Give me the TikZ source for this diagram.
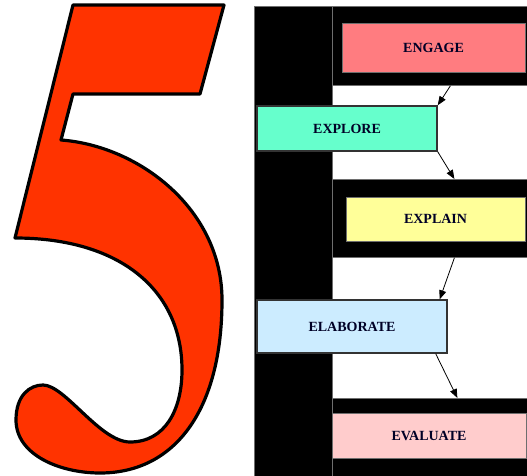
\documentclass[tikz,border=0pt]{standalone}
\usepackage{fontspec}
\setmainfont{Liberation Serif}
\usetikzlibrary{arrows.meta}
\definecolor{fiveRed}{RGB}{255,51,0}
\definecolor{engageC}{RGB}{255,124,128}
\definecolor{exploreC}{RGB}{102,255,204}
\definecolor{explainC}{RGB}{255,255,153}
\definecolor{elaborateC}{RGB}{204,236,255}
\definecolor{evaluateC}{RGB}{255,204,204}
\definecolor{edgeGray}{RGB}{110,110,110}
\tikzset{
  blk/.style={fill=black, draw=edgeGray, line width=0.8pt},
  stage/.style={font=\fontsize{14}{16}\selectfont\bfseries, text=black!85!blue},
  arr/.style={draw=black, line width=0.8pt, -{Triangle[length=9pt,width=7pt]}},
}
\begin{document}
\begin{tikzpicture}[x=1pt,y=-1pt]
\useasboundingbox (0,0) rectangle (527,476);
% the digit 5
\draw[fill=fiveRed, line width=3.2pt, line join=round]
  (73,5) -- (224,5) -- (200,94) -- (73,94) -- (61,140)
  .. controls (140,146) and (222,210) .. (222,300)
  .. controls (222,410) and (175,473) .. (100,473)
  .. controls (60,473) and (16,455) .. (16,420)
  .. controls (16,395) and (30,385) .. (43,385)
  .. controls (65,385) and (100,442) .. (130,442)
  .. controls (165,442) and (182,410) .. (182,370)
  .. controls (182,290) and (120,238) .. (15,238)
  -- cycle;
% black backing
\path[blk] (254,6) rectangle (332,477);
\node[blk, minimum width=195pt, minimum height=79pt, inner sep=0pt, anchor=north west] (engageBg) at (332,6) {};
\node[blk, minimum width=195pt, minimum height=78pt, inner sep=0pt, anchor=north west] (explainBg) at (332,179) {};
\node[blk, minimum width=195pt, minimum height=79pt, inner sep=0pt, anchor=north west] (evaluateBg) at (332,398) {};
% stage boxes
\node[stage, fill=engageC, draw=edgeGray, line width=0.6pt, minimum width=183pt, minimum height=49pt, inner sep=0pt] (engage) at (433.5,47.5) {ENGAGE};
\node[stage, fill=exploreC, draw=black!80, line width=1.4pt, minimum width=180pt, minimum height=45pt, inner sep=0pt] (explore) at (347,128.5) {EXPLORE};
\node[stage, fill=explainC, draw=edgeGray, line width=0.6pt, minimum width=179pt, minimum height=44pt, inner sep=0pt] (explain) at (435.5,219) {EXPLAIN};
\node[stage, fill=elaborateC, draw=black!80, line width=1.4pt, minimum width=190pt, minimum height=53pt, inner sep=0pt] (elaborate) at (352,326.5) {ELABORATE};
\node[stage, fill=evaluateC, draw=edgeGray, line width=0.6pt, minimum width=194pt, minimum height=45pt, inner sep=0pt] (evaluate) at (429,435.5) {EVALUATE};
% connectors
\draw[arr] ([xshift=20.5pt]engageBg.south) -- (explore.north east);
\draw[arr] (explore.south east) -- ([xshift=24.5pt]explainBg.north);
\draw[arr] ([xshift=24.5pt]explainBg.south) -- ([xshift=-8pt]elaborate.north east);
\draw[arr] ([xshift=-12pt]elaborate.south east) -- ([xshift=27.5pt]evaluateBg.north);
\end{tikzpicture}
\end{document}
